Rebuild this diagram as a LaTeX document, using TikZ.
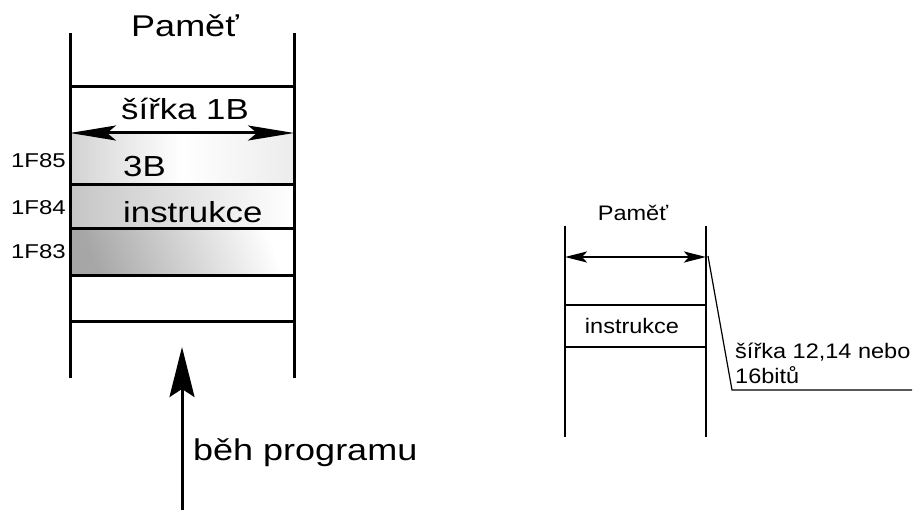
\documentclass[tikz,border=0pt]{standalone}
\usepackage{fontspec}
\setmainfont{Liberation Sans}
\newfontfamily\wideA[FakeStretch=1.2]{Liberation Sans}
\newfontfamily\wideB[FakeStretch=1.12]{Liberation Sans}
\usetikzlibrary{arrows.meta}
\tikzset{
  bigtxt/.style={inner sep=0pt, font=\wideA\fontsize{29}{34}\selectfont},
  addrtxt/.style={inner sep=0pt, anchor=base east, font=\wideA\fontsize{20}{24}\selectfont},
  smalltxt/.style={inner sep=0pt, font=\wideB\fontsize{21}{25}\selectfont},
  thickline/.style={line width=3pt},
  thinline/.style={line width=2pt},
  midline/.style={line width=2.6pt},
  bigdbl/.style={line width=3pt, {Stealth[length=46pt,width=15pt,inset=9pt]}-{Stealth[length=46pt,width=15pt,inset=9pt]}},
  smalldbl/.style={line width=2.6pt, {Stealth[length=22pt,width=11pt,inset=5pt]}-{Stealth[length=22pt,width=11pt,inset=5pt]}},
  runarrow/.style={line width=3pt, -{Stealth[length=50pt,width=25pt,inset=8pt]}},
  leader/.style={line width=1.2pt}
}
\begin{document}
\begin{tikzpicture}[x=1pt,y=-1pt]
\useasboundingbox[fill=white] (0,0) rectangle (920,510);
% ---------- left memory ----------
\fill[left color=gray!35, right color=gray!15, middle color=white] (70,133) rectangle (294,185);
\fill[left color=gray!45, right color=white] (70,185) rectangle (294,229);
\fill[shading=axis, top color=white, bottom color=gray!70, shading angle=-70] (70,229) rectangle (294,276);
\coordinate (LT) at (70,33);  \coordinate (LB) at (70,378);
\coordinate (RT) at (294,33); \coordinate (RB) at (294,378);
\draw[thickline] (LT) -- (LB);
\draw[thickline] (RT) -- (RB);
\foreach \yy/\nm in {87/h1,185/h3,229/h4,276/h5,321/h6}{
  \coordinate (\nm a) at (70,\yy); \coordinate (\nm b) at (294,\yy);
  \draw[thickline] (\nm a) -- (\nm b);
}
\coordinate (h2a) at (70,133); \coordinate (h2b) at (294,133);
\draw[bigdbl] (h2a) -- (h2b);
\node[font=\wideA\fontsize{30}{36}\selectfont, inner sep=0pt, anchor=base] (pam1) at (185,37) {Paměť};
\node[bigtxt, anchor=base] (sir1) at (185,120) {šířka 1B};
\node[bigtxt, anchor=base west] (tri) at (123,177) {3B};
\node[bigtxt, anchor=base west] (ins1) at (123,222.5) {instrukce};
\node[addrtxt] (a85) at (66,168) {1F85};
\node[addrtxt] (a84) at (66,215) {1F84};
\node[addrtxt] (a83) at (66,259) {1F83};
\coordinate (runS) at (182,512);
\coordinate (runE) at (182,347);
\draw[runarrow] (runS) -- (runE);
\node[bigtxt, anchor=base west, font=\wideA\fontsize{30}{36}\selectfont] (beh) at (193,460) {běh programu};
% ---------- right memory ----------
\coordinate (rLT) at (565,226); \coordinate (rLB) at (565,437);
\coordinate (rRT) at (706,226); \coordinate (rRB) at (706,437);
\draw[thinline] (rLT) -- (rLB);
\draw[thinline] (rRT) -- (rRB);
\coordinate (rA1) at (565,257); \coordinate (rA2) at (706,257);
\draw[smalldbl] (rA1) -- (rA2);
\coordinate (r1a) at (565,305); \coordinate (r1b) at (706,305);
\coordinate (r2a) at (565,347); \coordinate (r2b) at (706,347);
\draw[midline] (r1a) -- (r1b);
\draw[midline] (r2a) -- (r2b);
\node[smalltxt, anchor=base] (pam2) at (633,221) {Paměť};
\node[smalltxt, anchor=base] (ins2) at (632,333) {instrukce};
\coordinate (ld1) at (708,256);
\coordinate (ld2) at (732,390);
\coordinate (ld3) at (912,390);
\draw[leader] (ld1) -- (ld2) -- (ld3);
\node[smalltxt, anchor=base west] (sir2) at (735,358) {šířka 12,14 nebo};
\node[smalltxt, anchor=base west] (bit) at (735,383) {16bitů};
\end{tikzpicture}
\end{document}
